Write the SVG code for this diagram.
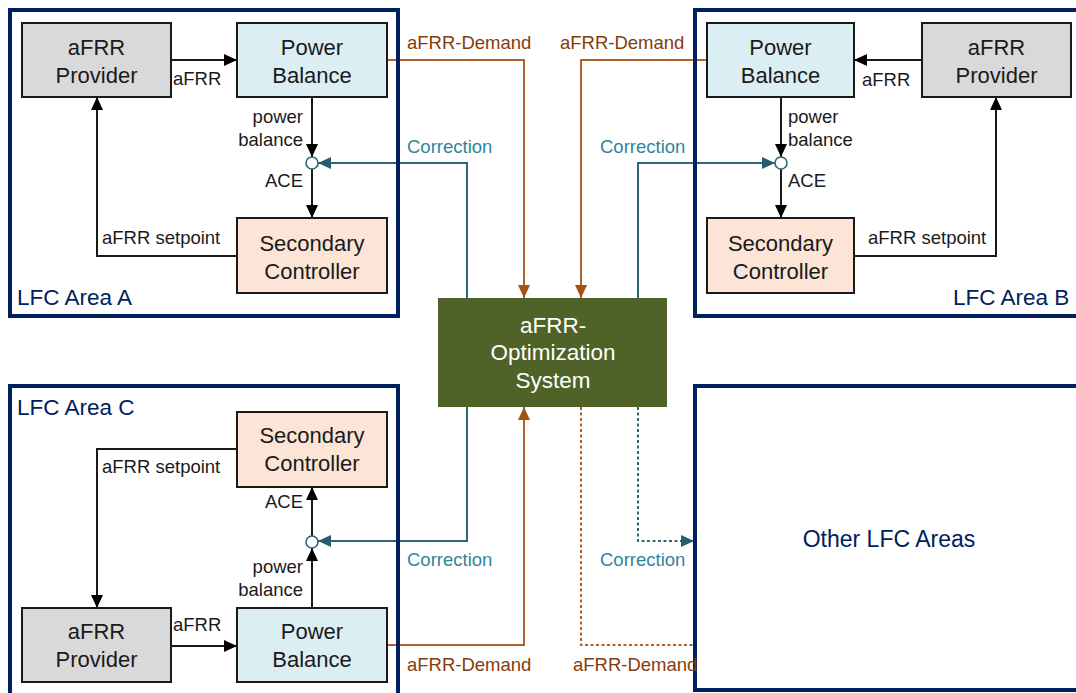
<svg xmlns="http://www.w3.org/2000/svg" width="1076" height="693" viewBox="0 0 1076 693">
  <style>
    .area { fill: none; stroke: #002060; stroke-width: 4; }
    .box { stroke: #1a1a1a; stroke-width: 2; }
    .prov { fill: #d9d9d9; }
    .pb { fill: #daeef3; }
    .sc { fill: #fce4d6; }
    .t { font-family: "Liberation Sans", Arial, sans-serif; }
    .bt { font-size: 22px; fill: #1a1a1a; text-anchor: middle; }
    .lb { font-size: 18.5px; fill: #1a1a1a; }
    .at { font-size: 22.5px; fill: #002060; }
    .dem { font-size: 18.5px; fill: #843c0c; }
    .cor { font-size: 18.5px; fill: #31849b; }
    .blk { fill: none; stroke: #1a1a1a; stroke-width: 2; }
    .org { fill: none; stroke: #b0622a; stroke-width: 2; }
    .tea { fill: none; stroke: #2e6676; stroke-width: 2; }
    .dash { stroke-dasharray: 3 2.5; }
    .sum { fill: #ffffff; stroke: #2e6676; stroke-width: 1.6; }
  </style>
  <defs>
    <marker id="ah-black" markerUnits="userSpaceOnUse" markerWidth="14" markerHeight="12" refX="13" refY="6" orient="auto">
      <path d="M0,0 L13,6 L0,12 Z" fill="#000000"/>
    </marker>
    <marker id="ah-orange" markerUnits="userSpaceOnUse" markerWidth="14" markerHeight="12" refX="13" refY="6" orient="auto">
      <path d="M0,0 L13,6 L0,12 Z" fill="#a5520f"/>
    </marker>
    <marker id="ah-teal" markerUnits="userSpaceOnUse" markerWidth="14" markerHeight="12" refX="13" refY="6" orient="auto">
      <path d="M0,0 L13,6 L0,12 Z" fill="#255e6c"/>
    </marker>
  </defs>

  <rect x="0" y="0" width="1076" height="693" fill="#ffffff"/>

  <!-- connectors -->
  <g id="connectors">
    <!-- area A -->
    <line class="blk" x1="171" y1="60" x2="237" y2="60" marker-end="url(#ah-black)"/>
    <line class="blk" x1="312" y1="97" x2="312" y2="157" marker-end="url(#ah-black)"/>
    <line class="blk" x1="312" y1="169" x2="312" y2="218" marker-end="url(#ah-black)"/>
    <polyline class="blk" points="237,256 97,256 97,97" marker-end="url(#ah-black)"/>
    <!-- area B -->
    <line class="blk" x1="922" y1="60" x2="854" y2="60" marker-end="url(#ah-black)"/>
    <line class="blk" x1="781" y1="97" x2="781" y2="157" marker-end="url(#ah-black)"/>
    <line class="blk" x1="781" y1="169" x2="781" y2="218" marker-end="url(#ah-black)"/>
    <polyline class="blk" points="854,256 996,256 996,97" marker-end="url(#ah-black)"/>
    <!-- area C -->
    <line class="blk" x1="171" y1="646" x2="237" y2="646" marker-end="url(#ah-black)"/>
    <line class="blk" x1="312" y1="608" x2="312" y2="548" marker-end="url(#ah-black)"/>
    <line class="blk" x1="312" y1="536" x2="312" y2="487" marker-end="url(#ah-black)"/>
    <polyline class="blk" points="237,449 97,449 97,608" marker-end="url(#ah-black)"/>

    <!-- aFRR demand to the optimization system -->
    <polyline class="org" points="387,60 524,60 524,298" marker-end="url(#ah-orange)"/>
    <polyline class="org" points="707,60 581,60 581,298" marker-end="url(#ah-orange)"/>
    <polyline class="org" points="387,645 524,645 524,407" marker-end="url(#ah-orange)"/>
    <polyline class="org dash" points="581,407 581,645 695,645"/>

    <!-- corrections from the optimization system -->
    <polyline class="tea" points="467,298 467,163 318,163" marker-end="url(#ah-teal)"/>
    <polyline class="tea" points="638,298 638,163 775,163" marker-end="url(#ah-teal)"/>
    <polyline class="tea" points="467,407 467,541 318,541" marker-end="url(#ah-teal)"/>
    <polyline class="tea dash" points="638,407 638,541 694,541" marker-end="url(#ah-teal)"/>
  </g>

  <!-- LFC area frames -->
  <g id="area-a">
    <rect class="area" x="10" y="10" width="388" height="306"/>
    <text class="t at" x="17" y="305">LFC Area A</text>
  </g>
  <g id="area-b">
    <rect class="area" x="695" y="10" width="400" height="306"/>
    <text class="t at" x="953" y="305">LFC Area B</text>
  </g>
  <g id="area-c">
    <rect class="area" x="10" y="386" width="388" height="312"/>
    <text class="t at" x="17" y="415">LFC Area C</text>
  </g>
  <g id="other-areas">
    <rect class="area" x="695" y="386" width="400" height="304"/>
    <text class="t at" x="889" y="547" text-anchor="middle" style="font-size:23px">Other LFC Areas</text>
  </g>

  <!-- area A nodes -->
  <g id="provider-a">
    <rect class="box prov" x="22" y="23" width="149" height="74"/>
    <text class="t bt" x="96.5" y="55">aFRR</text>
    <text class="t bt" x="96.5" y="83">Provider</text>
  </g>
  <g id="balance-a">
    <rect class="box pb" x="237" y="23" width="150" height="74"/>
    <text class="t bt" x="312" y="55">Power</text>
    <text class="t bt" x="312" y="83">Balance</text>
  </g>
  <g id="controller-a">
    <rect class="box sc" x="237" y="218" width="150" height="75"/>
    <text class="t bt" x="312" y="251">Secondary</text>
    <text class="t bt" x="312" y="279">Controller</text>
  </g>
  <g id="sum-a">
    <circle class="sum" cx="312" cy="163" r="6"/>
  </g>

  <!-- area B nodes -->
  <g id="balance-b">
    <rect class="box pb" x="707" y="23" width="147" height="74"/>
    <text class="t bt" x="780.5" y="55">Power</text>
    <text class="t bt" x="780.5" y="83">Balance</text>
  </g>
  <g id="provider-b">
    <rect class="box prov" x="922" y="23" width="149" height="74"/>
    <text class="t bt" x="996.5" y="55">aFRR</text>
    <text class="t bt" x="996.5" y="83">Provider</text>
  </g>
  <g id="controller-b">
    <rect class="box sc" x="707" y="218" width="147" height="75"/>
    <text class="t bt" x="780.5" y="251">Secondary</text>
    <text class="t bt" x="780.5" y="279">Controller</text>
  </g>
  <g id="sum-b">
    <circle class="sum" cx="781" cy="163" r="6"/>
  </g>

  <!-- area C nodes -->
  <g id="controller-c">
    <rect class="box sc" x="237" y="412" width="150" height="75"/>
    <text class="t bt" x="312" y="443">Secondary</text>
    <text class="t bt" x="312" y="471">Controller</text>
  </g>
  <g id="provider-c">
    <rect class="box prov" x="22" y="608" width="149" height="74"/>
    <text class="t bt" x="96.5" y="639">aFRR</text>
    <text class="t bt" x="96.5" y="667">Provider</text>
  </g>
  <g id="balance-c">
    <rect class="box pb" x="237" y="608" width="150" height="74"/>
    <text class="t bt" x="312" y="639">Power</text>
    <text class="t bt" x="312" y="667">Balance</text>
  </g>
  <g id="sum-c">
    <circle class="sum" cx="312" cy="542" r="6"/>
  </g>

  <!-- central optimization -->
  <g id="optimization">
    <rect x="438" y="298" width="229" height="109" fill="#4f6228"/>
    <text class="t bt" x="553" y="333" style="fill:#ffffff;font-size:22.5px">aFRR-</text>
    <text class="t bt" x="553" y="360" style="fill:#ffffff;font-size:22.5px">Optimization</text>
    <text class="t bt" x="553" y="388" style="fill:#ffffff;font-size:22.5px">System</text>
  </g>

  <!-- connector labels -->
  <g id="labels">
    <text class="t lb" x="173" y="85">aFRR</text>
    <text class="t lb" x="303" y="123" text-anchor="end">power</text>
    <text class="t lb" x="303" y="146" text-anchor="end">balance</text>
    <text class="t lb" x="303" y="187" text-anchor="end">ACE</text>
    <text class="t lb" x="102" y="244">aFRR setpoint</text>

    <text class="t lb" x="862" y="86">aFRR</text>
    <text class="t lb" x="788" y="123">power</text>
    <text class="t lb" x="788" y="146">balance</text>
    <text class="t lb" x="788" y="187">ACE</text>
    <text class="t lb" x="868" y="244">aFRR setpoint</text>

    <text class="t lb" x="102" y="473">aFRR setpoint</text>
    <text class="t lb" x="303" y="508" text-anchor="end">ACE</text>
    <text class="t lb" x="303" y="573" text-anchor="end">power</text>
    <text class="t lb" x="303" y="596" text-anchor="end">balance</text>
    <text class="t lb" x="173" y="631">aFRR</text>

    <text class="t dem" x="407" y="49">aFRR-Demand</text>
    <text class="t dem" x="560" y="49">aFRR-Demand</text>
    <text class="t dem" x="407" y="671">aFRR-Demand</text>
    <text class="t dem" x="573" y="671">aFRR-Demand</text>

    <text class="t cor" x="407" y="153">Correction</text>
    <text class="t cor" x="600" y="153">Correction</text>
    <text class="t cor" x="407" y="566">Correction</text>
    <text class="t cor" x="600" y="566">Correction</text>
  </g>
</svg>
